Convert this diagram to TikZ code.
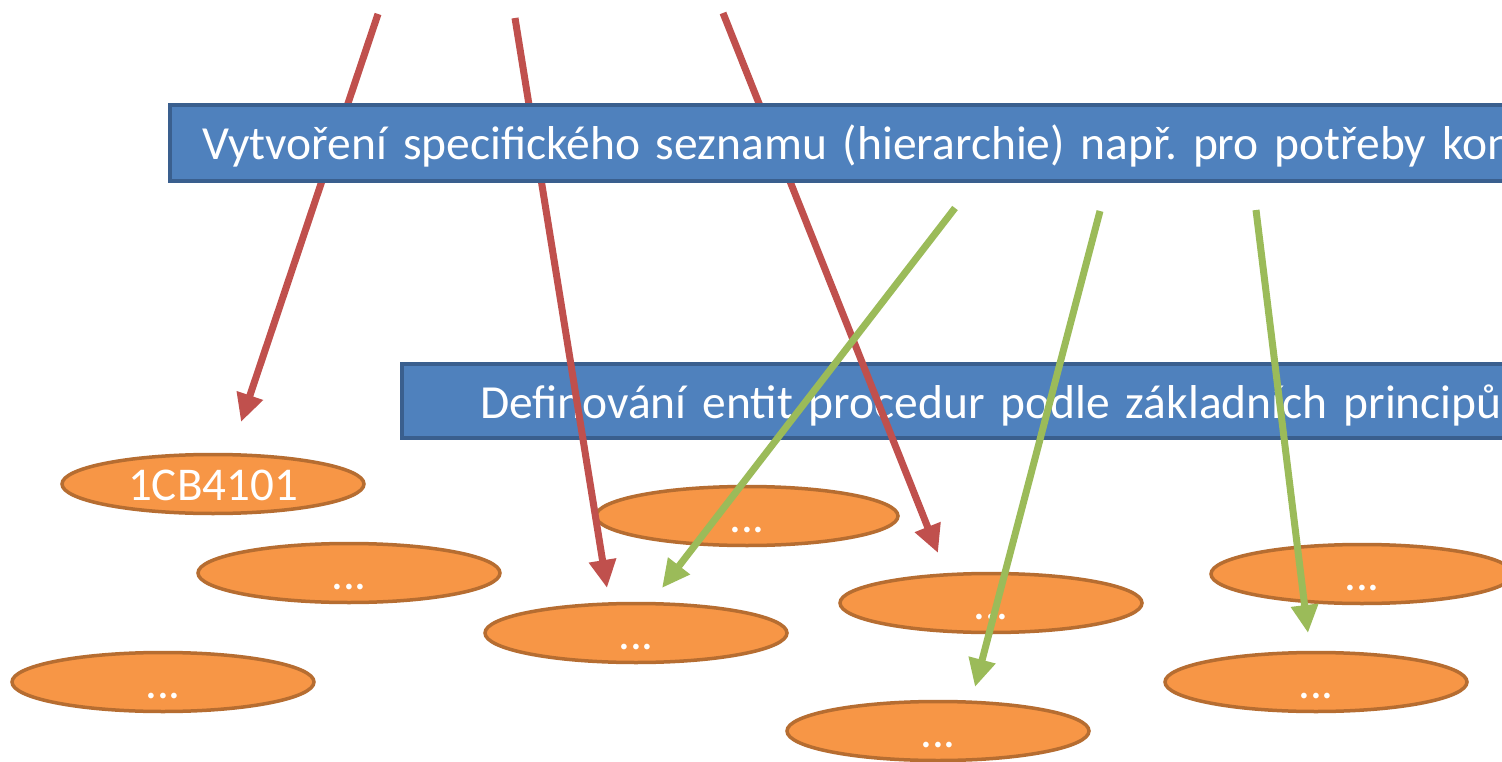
\documentclass[tikz,border=0pt]{standalone}
\usepackage{fontspec}
\setmainfont{Carlito}
\usetikzlibrary{arrows.meta,shapes.geometric}
\definecolor{boxfill}{HTML}{4F81BD}
\definecolor{boxborder}{HTML}{3A5F8E}
\definecolor{ellfill}{HTML}{F79646}
\definecolor{ellborder}{HTML}{B66D31}
\definecolor{redarr}{HTML}{C0504D}
\definecolor{greenarr}{HTML}{9BBB59}
\begin{document}
\frenchspacing
\begin{tikzpicture}[x=1pt,y=-1pt,
  ell/.style={ellipse, draw=ellborder, fill=ellfill, line width=3.5pt,
    minimum width=302pt, minimum height=59pt, inner sep=0pt, text=white,
    font=\fontsize{47}{50}\selectfont, text height=32pt, text depth=0pt},
  bluebox/.style={rectangle, draw=boxborder, fill=boxfill, line width=4pt,
    anchor=west, text width=1700pt, align=left, inner ysep=0pt, text=white,
    font=\fontsize{47.5}{50}\selectfont\frenchspacing, text height=34pt, text depth=0pt},
  redarrow/.style={draw=redarr, line width=7pt, -{Triangle[length=28pt,width=26pt]}},
  greenarrow/.style={draw=greenarr, line width=7pt, -{Triangle[length=28pt,width=26pt]}}
]
\useasboundingbox (0,0) rectangle (1502,762);
\fill[white] (0,0) rectangle (1502,762);

% ellipses
\node[ell] (e1) at (213,484) {1CB4101};
\node[ell] (e2) at (349,573) {...};
\node[ell] (e3) at (163,682) {...};
\node[ell] (e4) at (747,516) {...};
\node[ell] (e5) at (636,633) {...};
\node[ell] (e6) at (991,603) {...};
\node[ell] (e7) at (938,731) {...};
\node[ell] (e8) at (1362,574) {...};
\node[ell] (e9) at (1316,682) {...};

% lower box
\node[bluebox, minimum height=74pt, inner xsep=78pt] (b2) at (400,401)
  {Definování entit procedur podle základních principů l};

% arrow end points
\coordinate (r1s) at (378,14);  \coordinate (r1e) at (241,422);
\coordinate (r2s) at (515,18);  \coordinate (r2e) at (607,588);
\coordinate (r3s) at (723,13);  \coordinate (r3e) at (938,553);
\coordinate (g1s) at (955,208); \coordinate (g1e) at (662,588);
\coordinate (g2s) at (1100,211);\coordinate (g2e) at (975,687);
\coordinate (g3s) at (1256,210);\coordinate (g3e) at (1308,633);

\draw[redarrow] (r1s) -- (r1e);
\draw[redarrow] (r2s) -- (r2e);
\draw[redarrow] (r3s) -- (r3e);
\draw[greenarrow] (g1s) -- (g1e);
\draw[greenarrow] (g2s) -- (g2e);
\draw[greenarrow] (g3s) -- (g3e);

% upper box (drawn over the red arrows)
\node[bluebox, minimum height=76pt, inner xsep=32pt] (b1) at (168,143)
  {Vytvoření specifického seznamu (hierarchie) např. pro potřeby konk};
\end{tikzpicture}
\end{document}
